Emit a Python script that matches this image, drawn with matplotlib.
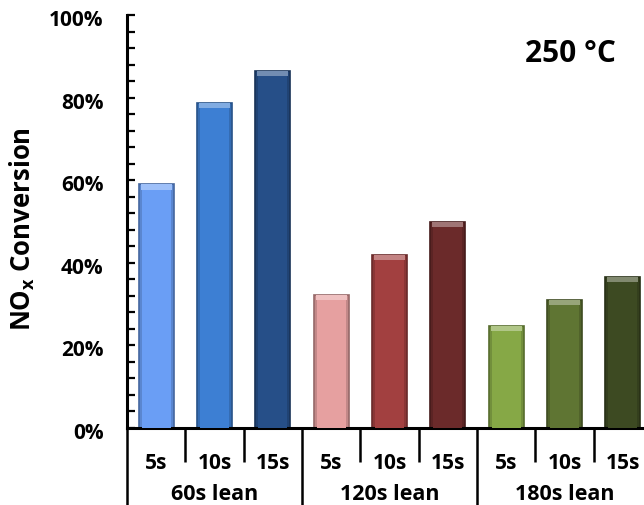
import matplotlib
matplotlib.use("Agg")
import matplotlib.pyplot as plt
import matplotlib.transforms as mtransforms
from matplotlib.ticker import FuncFormatter, MultipleLocator, FixedLocator
import matplotlib.colors as mcolors

plt.rcParams['font.family'] = ['Open Sans', 'DejaVu Sans']
plt.rcParams['font.weight'] = 'bold'
plt.rcParams['mathtext.default'] = 'regular'

# ---- data ----
groups = ["60s lean", "120s lean", "180s lean"]
sub_labels = ["5s", "10s", "15s"]
values_60 = [59.0, 78.8, 86.5]
values_120 = [32.3, 41.9, 49.9]
values_180 = [24.8, 31.1, 36.6]
colors_60 = ["#6a9ef5", "#3d7fd3", "#264f88"]
colors_120 = ["#e6a0a0", "#a24040", "#6b2a2a"]
colors_180 = ["#86a846", "#5f7533", "#3d4a22"]
y_ticks = [0, 20, 40, 60, 80, 100]
annotation = "250 °C"

values = values_60 + values_120 + values_180
colors = colors_60 + colors_120 + colors_180
n_sub = len(sub_labels)
xs = [i + 0.5 for i in range(len(values))]

W, H = 644, 505
fig = plt.figure(figsize=(W / 100, H / 100), dpi=100)
left_px, right_px, top_px, bottom_px = 127, 652, 15, 428
ax = fig.add_axes([left_px / W, 1 - bottom_px / H, (right_px - left_px) / W, (bottom_px - top_px) / H])

def shade(c, f):
    r, g, b = mcolors.to_rgb(c)
    return (r * f, g * f, b * f)

def tint(c, f):
    r, g, b = mcolors.to_rgb(c)
    return (r + (1 - r) * f, g + (1 - g) * f, b + (1 - b) * f)

bw = 0.6
ax.bar(xs, values, width=bw, color=[shade(c, 0.85) for c in colors],
       edgecolor=[shade(c, 0.65) for c in colors], linewidth=1.2, zorder=2)
ax.bar(xs, [v - 1.2 for v in values], width=bw * 0.82, color=colors, linewidth=0, zorder=3)
bevel = 1.3
ax.bar(xs, [bevel] * len(values), bottom=[v - bevel for v in values], width=bw * 0.88,
       color=[tint(c, 0.35) for c in colors], linewidth=0, zorder=4)

ax.set_xlim(0, len(values))
ax.set_ylim(0, 100)

for s in ["top", "right"]:
    ax.spines[s].set_visible(False)
for s in ["left", "bottom"]:
    ax.spines[s].set_linewidth(2.2)
    ax.spines[s].set_color("black")

ax.yaxis.set_major_locator(FixedLocator(y_ticks))
ax.yaxis.set_minor_locator(MultipleLocator(4))
ax.yaxis.set_major_formatter(FuncFormatter(lambda v, p: f"{int(v)}%"))
ax.tick_params(axis="y", which="both", direction="in", length=5.5, width=1.6, color="black")
ax.tick_params(axis="y", which="major", labelsize=15, pad=17)
shift = mtransforms.ScaledTranslation(0, -3 / 100, fig.dpi_scale_trans)
for t in ax.get_yticklabels():
    t.set_fontweight("bold")
    t.set_transform(t.get_transform() + shift)

group_bounds = [i * n_sub for i in range(len(groups) + 1)]
sub_bounds = [i for i in range(len(values) + 1) if i % n_sub != 0]
ax.xaxis.set_major_locator(FixedLocator(group_bounds))
ax.xaxis.set_minor_locator(FixedLocator(sub_bounds))
ax.tick_params(axis="x", which="major", direction="out", length=56, width=1.8, labelbottom=False)
ax.tick_params(axis="x", which="minor", direction="out", length=24.5, width=1.8)

trans = mtransforms.blended_transform_factory(ax.transData, ax.transAxes)
px = 1.0 / (bottom_px - top_px)
for x, lab in zip(xs, sub_labels * len(groups)):
    ax.text(x, -41 * px, lab, transform=trans, ha="center", va="baseline", fontsize=15, fontweight="bold")
for gi, g in enumerate(groups):
    gx = gi * n_sub + n_sub / 2
    ax.text(gx, -72 * px, g, transform=trans, ha="center", va="baseline", fontsize=15.5, fontweight="bold")

ax.set_ylabel(r"NO$_\mathregular{x}$ Conversion", fontsize=18.5, fontweight="bold")
ax.yaxis.set_label_coords(-(127 - 37) / (right_px - left_px), (bottom_px - 229) / (bottom_px - top_px))

ax.text((570 - left_px) / (right_px - left_px), (bottom_px - 54) / (bottom_px - top_px), annotation,
        transform=ax.transAxes, ha="center", va="center", fontsize=21.5, fontweight="bold")

fig.savefig("out.png", dpi=100)
